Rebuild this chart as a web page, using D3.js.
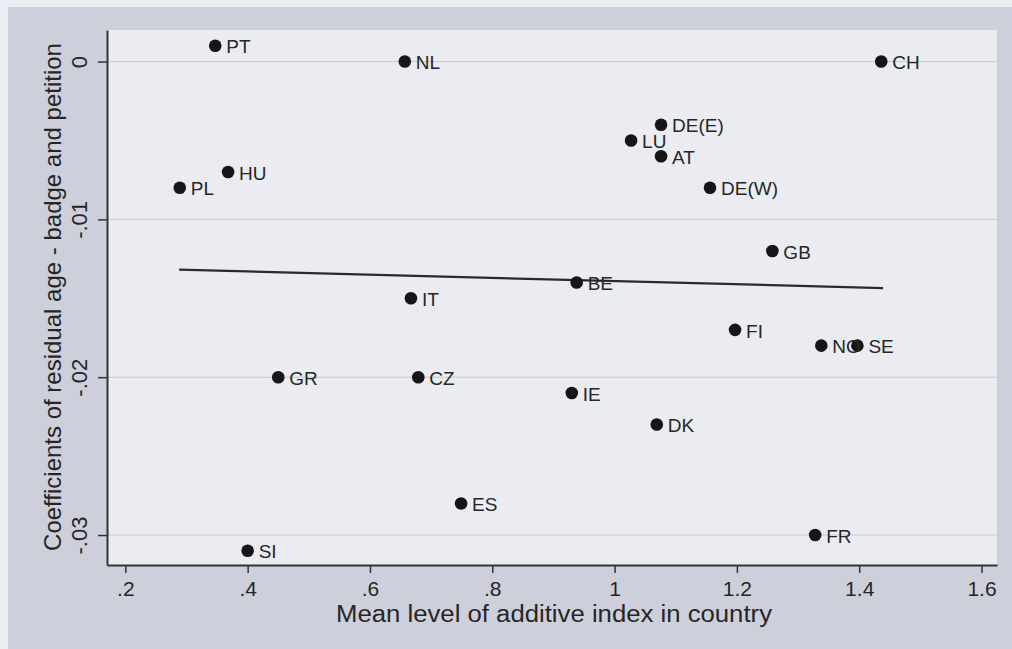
<!DOCTYPE html>
<html>
<head>
<meta charset="utf-8">
<script src="https://cdn.jsdelivr.net/npm/d3@7"></script>
<style>
  html, body { margin: 0; padding: 0; background: #eceef3; }
  svg { display: block; }
  text { font-family: "Liberation Sans", Arial, sans-serif; fill: #262626; }
</style>
</head>
<body>
<svg id="chart" width="1012" height="649"></svg>
<script>
// Country codes with mean additive index (x) and residual-age coefficient (y)
const countries = ["PT","NL","CH","DE(E)","LU","AT","DE(W)","HU","PL","GB","BE","IT","FI","NO","SE","GR","CZ","IE","DK","ES","FR","SI"];
const meanIndex = [0.347,0.657,1.436,1.076,1.027,1.076,1.156,0.368,0.289,1.258,0.938,0.667,1.197,1.338,1.397,0.450,0.679,0.930,1.069,0.749,1.328,0.400];
const coefficient = [0.001,0.000,0.000,-0.004,-0.005,-0.006,-0.008,-0.007,-0.008,-0.012,-0.014,-0.015,-0.017,-0.018,-0.018,-0.020,-0.020,-0.021,-0.023,-0.028,-0.030,-0.031];

// Linear fit drawn across the observed x range
const fitX = [0.288, 1.439];
const fitY = [-0.01319, -0.01435];

// Axis ticks and their labels
const xTicks = [0.2, 0.4, 0.6, 0.8, 1.0, 1.2, 1.4, 1.6];
const xTickLabels = [".2", ".4", ".6", ".8", "1", "1.2", "1.4", "1.6"];
const yTicks = [0, -0.01, -0.02, -0.03];
const yTickLabels = ["0", "-.01", "-.02", "-.03"];

const svg = d3.select("#chart");
const W = 1012, H = 649;

// Graph region background
svg.append("rect").attr("x", 8).attr("y", 7).attr("width", W - 8).attr("height", H - 7)
  .attr("fill", "#cdd0da");

const plot = { left: 107, right: 997, top: 30, bottom: 565 };

const x = d3.scaleLinear().domain([0.17, 1.6253]).range([plot.left, plot.right]);
const y = d3.scaleLinear().domain([-0.0319, 0.002]).range([plot.bottom, plot.top]);

// Plot region background
svg.append("rect")
  .attr("x", plot.left).attr("y", plot.top)
  .attr("width", plot.right - plot.left).attr("height", plot.bottom - plot.top)
  .attr("fill", "#eaecf2");

// Horizontal grid lines
svg.append("g").selectAll("line").data(yTicks).join("line")
  .attr("x1", plot.left).attr("x2", plot.right)
  .attr("y1", d => y(d)).attr("y2", d => y(d))
  .attr("stroke", "#c6c8ce").attr("stroke-width", 1);

// X axis
const xAxis = d3.axisBottom(x).tickValues(xTicks)
  .tickFormat((d, i) => xTickLabels[i]).tickSize(8).tickPadding(8).tickSizeOuter(0);
const gx = svg.append("g").attr("transform", `translate(0,${plot.bottom})`).call(xAxis);
gx.select(".domain").attr("stroke", "#333").attr("stroke-width", 2);
gx.selectAll(".tick line").attr("stroke", "#333").attr("stroke-width", 1.5);
gx.selectAll(".tick text").style("font-size", "21px").attr("fill", "#262626")
  .attr("font-family", "Liberation Sans, Arial, sans-serif");

// Y axis with vertical tick labels
const yAxis = d3.axisLeft(y).tickValues(yTicks)
  .tickFormat((d, i) => yTickLabels[i]).tickSize(9).tickPadding(0).tickSizeOuter(0);
const gy = svg.append("g").attr("transform", `translate(${plot.left},0)`).call(yAxis);
gy.select(".domain").attr("stroke", "#333").attr("stroke-width", 2);
gy.selectAll(".tick line").attr("stroke", "#333").attr("stroke-width", 1.5);
gy.selectAll(".tick text")
  .style("font-size", "22px").attr("fill", "#262626")
  .attr("font-family", "Liberation Sans, Arial, sans-serif")
  .attr("x", null)
  .attr("text-anchor", "middle")
  .attr("transform", "translate(-28,0) rotate(-90)")
  .attr("y", 0)
  .attr("dy", "0.35em");

// Fitted line
svg.append("line")
  .attr("x1", x(fitX[0])).attr("y1", y(fitY[0]))
  .attr("x2", x(fitX[1])).attr("y2", y(fitY[1]))
  .attr("stroke", "#2a2a2a").attr("stroke-width", 2.2);

// Country markers and labels
const data = countries.map((c, i) => ({ c, x: meanIndex[i], y: coefficient[i] }));
const pts = svg.append("g");
pts.selectAll("circle").data(data).join("circle")
  .attr("cx", d => x(d.x)).attr("cy", d => y(d.y)).attr("r", 6.3)
  .attr("fill", "#161616");
pts.selectAll("text").data(data).join("text")
  .attr("x", d => x(d.x) + 11).attr("y", d => y(d.y) + 1)
  .attr("dy", "0.35em")
  .style("font-size", "19px")
  .text(d => d.c);

// Axis titles
svg.append("text")
  .attr("x", 554).attr("y", 622)
  .attr("text-anchor", "middle").style("font-size", "23px")
  .attr("textLength", 436).attr("lengthAdjust", "spacingAndGlyphs")
  .text("Mean level of additive index in country");

svg.append("text")
  .attr("transform", "translate(61,297) rotate(-90)")
  .attr("text-anchor", "middle").style("font-size", "24px")
  .text("Coefficients of residual age - badge and petition");
</script>
</body>
</html>
